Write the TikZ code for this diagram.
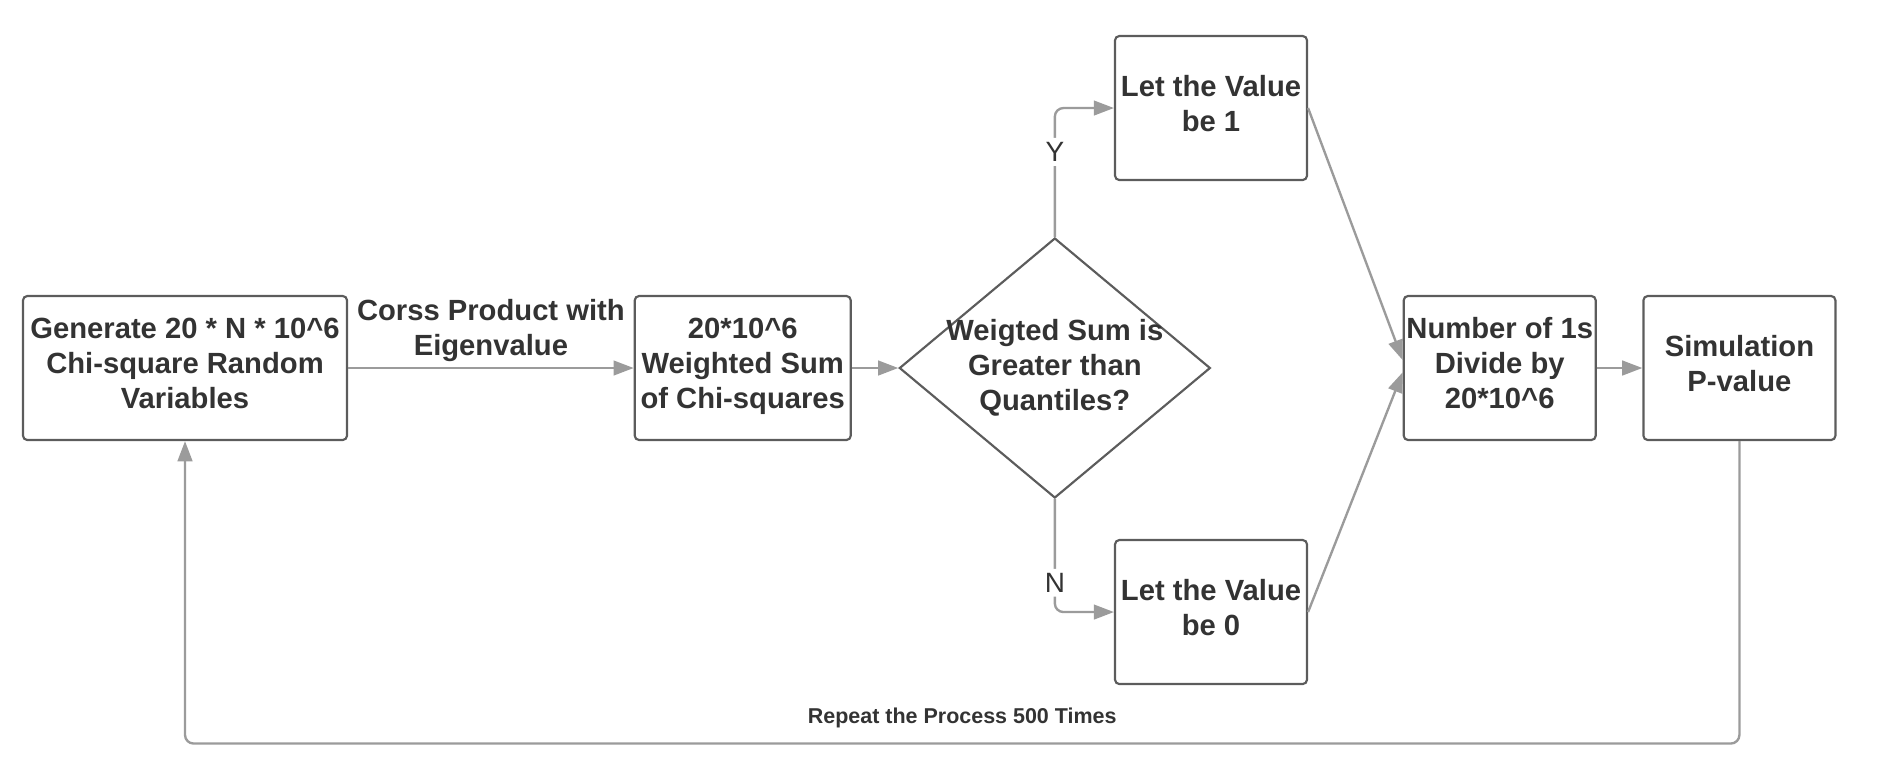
\documentclass[tikz,border=0pt]{standalone}
\usepackage{fontspec}
\setmainfont{Liberation Sans}
\usepackage{tikz}
\usetikzlibrary{shapes.geometric,arrows.meta,positioning,calc}

\definecolor{boxline}{HTML}{5C5C5C}
\definecolor{linkgray}{HTML}{9B9B9B}
\definecolor{txtgray}{HTML}{333333}

\begin{document}
\begin{tikzpicture}[
    node distance=0.8cm and 0.8cm,
    block/.style={rectangle, rounded corners=2pt, draw=boxline, line width=1pt, minimum width=3.142cm, minimum height=2.357cm, align=center, text=txtgray, font=\fontsize{13.6}{16.3}\selectfont\bfseries, text depth=0.16cm, inner sep=1pt},
    decide/.style={diamond, draw=boxline, line width=1pt, minimum width=5.09cm, minimum height=4.255cm, inner sep=0pt},
    boldtxt/.style={align=center, text=txtgray, font=\fontsize{13.6}{16.3}\selectfont\bfseries},
    link/.style={-{Triangle[length=0.33cm, width=0.24cm]}, draw=linkgray, line width=1.1pt},
    yn/.style={fill=white, text=txtgray, font=\fontsize{13}{15}\selectfont, inner sep=2pt}
]
\useasboundingbox (0,0) rectangle (30.9,-12.64);

% Main row
\node[block, minimum width=5.303cm] (gen) at (3.028,-6.023) {Generate 20 * N * 10\string^6\\Chi-square Random\\Variables};
\node[block, minimum width=3.535cm, right=4.674cm of gen] (wsum) {20*10\string^6\\Weighted Sum\\of Chi-squares};
\node[decide, right=0.76cm of wsum, label={[boldtxt]center:{Weigted Sum is\\Greater than\\Quantiles?}}] (dec) {};

% Yes / No outcomes
\node[block] (val1) at (19.82,-1.768) {Let the Value\\be 1};
\node[block] (val0) at (19.82,-10.017) {Let the Value\\be 0};

% Result
\node[block, right=3.13cm of dec] (count) {Number of 1s\\Divide by\\20*10\string^6};
\node[block, right=0.746cm of count] (sim) {Simulation\\P-value};

% Loop line
\coordinate (loopy) at (0,-12.169);

% Arrows
\draw[link] (gen) -- node[boldtxt, above=-1pt] {Corss Product with\\Eigenvalue} (wsum);
\draw[link] (wsum) -- (dec);
\draw[link, rounded corners=4pt] (dec.north) |- node[yn, pos=0.33] {Y} (val1.west);
\draw[link, rounded corners=4pt] (dec.south) |- node[yn, pos=0.37] {N} (val0.west);
\draw[link] (val1.east) -- ([yshift=0.13cm]count.west);
\draw[link] (val0.east) -- ([yshift=-0.07cm]count.west);
\draw[link] (count) -- (sim);
\draw[link, rounded corners=4pt] (sim.south) -- (sim.south |- loopy) -- node[above=3.5pt, text=txtgray, font=\fontsize{10}{12}\selectfont\bfseries] {Repeat the Process 500 Times} (gen.south |- loopy) -- (gen.south);

\end{tikzpicture}
\end{document}
